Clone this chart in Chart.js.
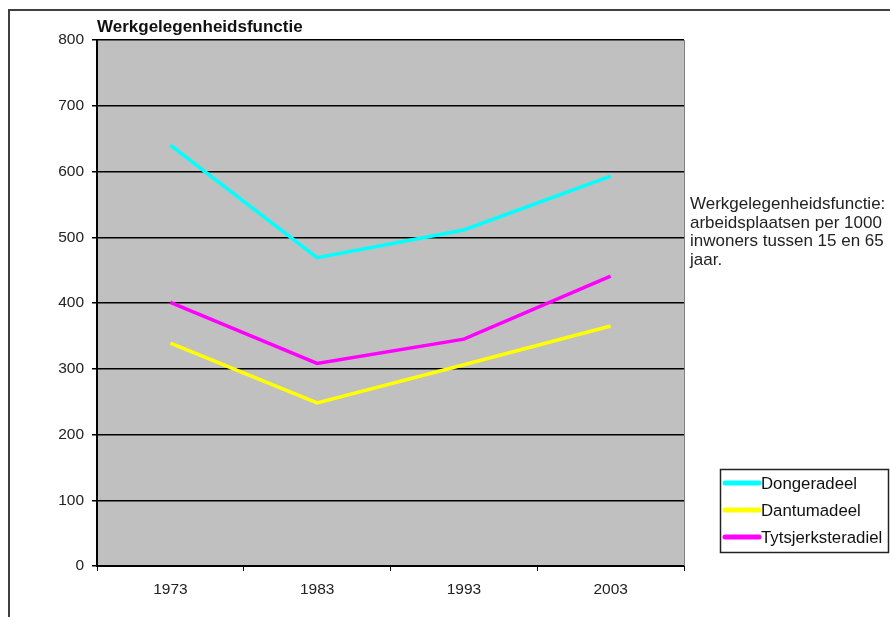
<!DOCTYPE html>
<html>
<head>
<meta charset="utf-8">
<script src="https://cdn.jsdelivr.net/npm/chart.js@4/dist/chart.umd.min.js"></script>
<style>
  html, body { margin: 0; padding: 0; background: #fff; }
  canvas { display: block; }
</style>
</head>
<body>
<canvas id="myChart" width="890" height="617"></canvas>
<script>
const jaren = ["1973", "1983", "1993", "2003"];
const dongeradeel = [640, 469, 511, 593];
const dantumadeel = [339, 248, 306, 365];
const tytsjerksteradiel = [401, 308, 345, 441];
const yTicks = [0, 100, 200, 300, 400, 500, 600, 700, 800];
const titel = "Werkgelegenheidsfunctie";
const toelichting = [
  "Werkgelegenheidsfunctie:",
  "arbeidsplaatsen per 1000",
  "inwoners tussen 15 en 65",
  "jaar."
];

const lettertype = "'Liberation Sans', Arial, sans-serif";

// achtergrond, kader, titel, tekst en legenda
const extraTekenen = {
  id: "extraTekenen",
  beforeDraw(chart) {
    const ctx = chart.ctx;
    const a = chart.chartArea;
    ctx.save();
    ctx.fillStyle = "#fff";
    ctx.fillRect(0, 0, chart.width, chart.height);
    ctx.fillStyle = "#c0c0c0";
    ctx.fillRect(a.left, a.top, a.right - a.left, a.bottom - a.top);
    ctx.restore();
  },
  afterDraw(chart) {
    const ctx = chart.ctx;
    const a = chart.chartArea;
    ctx.save();
    // rechterrand van het plotvlak
    ctx.strokeStyle = "#808080";
    ctx.lineWidth = 1;
    ctx.beginPath();
    ctx.moveTo(a.right + 0.5, a.top);
    ctx.lineTo(a.right + 0.5, a.bottom);
    ctx.stroke();
    // buitenkader
    ctx.strokeStyle = "#404040";
    ctx.lineWidth = 2;
    ctx.beginPath();
    ctx.moveTo(chart.width, 10);
    ctx.lineTo(9, 10);
    ctx.lineTo(9, chart.height);
    ctx.stroke();
    // titel
    ctx.fillStyle = "#111";
    ctx.font = "bold 17px " + lettertype;
    ctx.textBaseline = "alphabetic";
    ctx.fillText(titel, 97, 32);
    // toelichting rechts
    ctx.font = "17px " + lettertype;
    ctx.fillStyle = "#222";
    toelichting.forEach((r, i) => ctx.fillText(r, 690, 209 + i * 18.5));
    // legenda
    const lx = 720, ly = 469, lw = 168, lh = 83;
    ctx.fillStyle = "#fff";
    ctx.fillRect(lx, ly, lw, lh);
    ctx.strokeStyle = "#222";
    ctx.lineWidth = 1.5;
    ctx.strokeRect(lx + 0.5, ly + 0.5, lw, lh);
    ctx.font = "16.8px " + lettertype;
    ctx.textBaseline = "middle";
    chart.data.datasets.forEach((ds, i) => {
      const y = ly + 14 + i * 27;
      ctx.strokeStyle = ds.borderColor;
      ctx.lineWidth = 5;
      ctx.lineCap = "round";
      ctx.beginPath();
      ctx.moveTo(725, y);
      ctx.lineTo(759, y);
      ctx.stroke();
      ctx.fillStyle = "#111";
      ctx.fillText(ds.label, 761, y + 1);
    });
    ctx.restore();
  }
};

document.addEventListener("DOMContentLoaded", function () {
  var canvas = document.getElementById("myChart");
  var ctx = canvas.getContext("2d");
  new Chart(ctx, {
    type: "line",
    data: {
      labels: jaren,
      datasets: [
        { label: "Dongeradeel", data: dongeradeel, borderColor: "#00ffff" },
        { label: "Dantumadeel", data: dantumadeel, borderColor: "#ffff00" },
        { label: "Tytsjerksteradiel", data: tytsjerksteradiel, borderColor: "#ff00ff" }
      ]
    },
    options: {
      responsive: false,
      animation: false,
      layout: { padding: { left: 0, top: 40, right: 206, bottom: 0 } },
      elements: {
        line: { borderWidth: 3.5, tension: 0 },
        point: { radius: 0 }
      },
      plugins: {
        legend: { display: false },
        title: { display: false },
        tooltip: { enabled: false }
      },
      scales: {
        x: {
          offset: true,
          grid: {
            offset: true,
            drawOnChartArea: false,
            color: "#000",
            tickLength: 5
          },
          border: { color: "#000", width: 2 },
          ticks: {
            color: "#222",
            font: { family: lettertype, size: 15.5 },
            padding: 9
          },
          afterFit(scale) { scale.height = 51; }
        },
        y: {
          min: 0,
          max: 800,
          afterBuildTicks(scale) { scale.ticks = yTicks.map(v => ({ value: v })); },
          grid: { color: "#000", lineWidth: 1.5, tickLength: 5 },
          border: { color: "#000", width: 2 },
          ticks: {
            color: "#222",
            font: { family: lettertype, size: 15.5 },
            padding: 8
          },
          afterFit(scale) { scale.width = 97; }
        }
      }
    },
    plugins: [extraTekenen]
  });
});
</script>
</body>
</html>
